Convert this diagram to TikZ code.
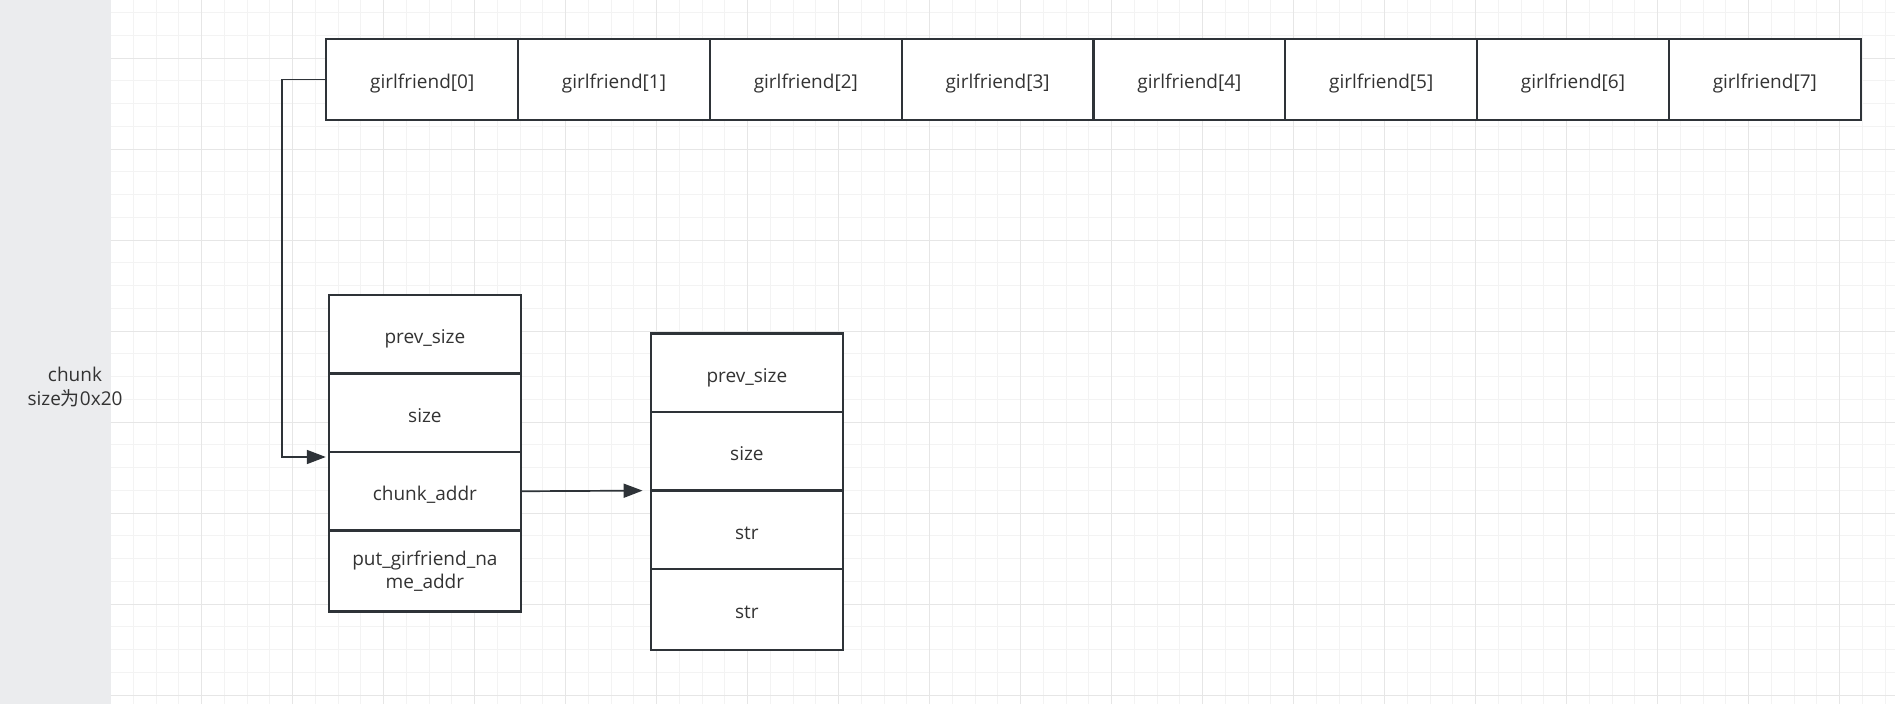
\documentclass[tikz,border=0pt]{standalone}
\usepackage{fontspec}
\setmainfont{Open Sans}
\newfontfamily\cjk{Noto Sans CJK SC}
\usetikzlibrary{positioning,arrows.meta}
\definecolor{boxline}{HTML}{2E3338}
\definecolor{txt}{HTML}{333333}
\definecolor{panel}{HTML}{EBECEE}
\definecolor{minorgrid}{HTML}{F3F3F3}
\definecolor{majorgrid}{HTML}{E6E6E6}

\begin{document}
\begin{tikzpicture}[
    x=0.5pt, y=-0.5pt,
    node distance=0pt,
    box/.style={draw=boxline, fill=white, line width=1.1pt, outer sep=0pt, minimum width=95.9pt, minimum height=39.25pt, align=center, text=txt, inner sep=1pt, font=\fontsize{9.5}{11.5}\selectfont},
    cell/.style={box, text height=10.7pt, text depth=1.3pt},
    tall/.style={minimum height=40.5pt},
    link/.style={draw=boxline, line width=0.85pt, -{Triangle[length=9.5pt,width=7pt]}}
  ]
    \useasboundingbox (0,0) rectangle (1895,704);
    % canvas
    \fill[panel] (0,0) rectangle (110.5,704);
    \fill[white] (110.5,0) rectangle (1895,704);
    \foreach \i in {5,...,82} \draw[minorgrid, line width=0.5pt] ({19.7+22.75*\i},0) -- ++(0,704);
    \foreach \j in {0,...,30} \draw[minorgrid, line width=0.5pt] (110.5,{12.7+22.75*\j}) -- (1895,{12.7+22.75*\j});
    \foreach \i in {8,12,...,80} \draw[majorgrid, line width=0.5pt] ({19.7+22.75*\i},0) -- ++(0,704);
    \foreach \j in {2,6,...,30} \draw[majorgrid, line width=0.5pt] (110.5,{12.7+22.75*\j}) -- (1895,{12.7+22.75*\j});

    % girlfriend array
    \node[cell, tall, anchor=north west] (g0) at (326.3,39) {girlfriend[0]};
    \foreach \i [count=\j from 0] in {1,...,7}
      \node[cell, tall, right=of g\j] (g\i) {girlfriend[\i]};

    % girlfriend chunk
    \node[cell, anchor=north west] (lprev) at (329,295) {prev\_size};
    \node[cell, below=of lprev] (lsize) {size};
    \node[cell, below=of lsize] (laddr) {chunk\_addr};
    \node[box, tall, below=of laddr] (lput) {put\_girfriend\_na\\me\_addr};

    % name chunk
    \node[cell, anchor=north west] (rprev) at (651,333.6) {prev\_size};
    \node[cell, below=of rprev] (rsize) {size};
    \node[cell, below=of rsize] (rstr) {str};
    \node[cell, tall, below=of rstr] (rstr2) {str};

    \node[text=txt, align=center, font=\fontsize{9.5}{12.3}\selectfont] (note) at (75,387) {chunk\\size{\cjk 为}0x20};

    \draw[link, shorten >=1.6pt] (g0.west) -- ++(-44,0) |- ([yshift=-2.5pt]laddr.north west);
    \draw[link, shorten >=4.2pt] (laddr.east) -- (rstr.north west);
  \end{tikzpicture}
\end{document}
